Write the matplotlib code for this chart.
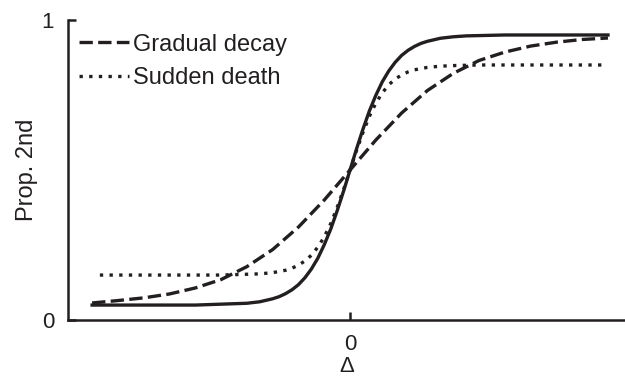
import matplotlib
matplotlib.use('Agg')
import matplotlib.pyplot as plt

plt.rcParams['font.family'] = ['Liberation Sans', 'DejaVu Sans']

INK = '#231f20'

# values (delta, proportion 2nd)
solid_x = [-1.0, -0.6, -0.4, -0.35, -0.3, -0.275, -0.25, -0.225, -0.2, -0.175, -0.15,
           -0.125, -0.1, -0.075, -0.05, -0.025, 0.0, 0.025, 0.05, 0.075, 0.1, 0.125,
           0.15, 0.175, 0.2, 0.225, 0.25, 0.275, 0.3, 0.35, 0.4, 0.45, 0.5, 0.6, 1.0]
solid_y = [0.05, 0.05, 0.056, 0.061, 0.071, 0.078, 0.088, 0.101, 0.118, 0.141, 0.170,
           0.206, 0.251, 0.303, 0.364, 0.430, 0.5, 0.570, 0.636, 0.697, 0.749, 0.794,
           0.830, 0.859, 0.882, 0.899, 0.912, 0.922, 0.929, 0.939, 0.944, 0.947, 0.948, 0.95, 0.95]

gradual_x = [-1.0, -0.9, -0.8, -0.7, -0.6, -0.5, -0.4, -0.3, -0.2, -0.1, 0.0,
             0.1, 0.2, 0.3, 0.4, 0.5, 0.6, 0.7, 0.8, 0.9, 1.0]
gradual_y = [0.057, 0.065, 0.074, 0.087, 0.107, 0.135, 0.178, 0.235, 0.310, 0.400, 0.5,
             0.600, 0.690, 0.765, 0.822, 0.865, 0.893, 0.913, 0.926, 0.935, 0.940]

sudden_x = [-0.97, -0.5, -0.35, -0.3, -0.25, -0.225, -0.2, -0.175, -0.15, -0.125, -0.1,
            -0.075, -0.05, -0.025, 0.0, 0.025, 0.05, 0.075, 0.1, 0.125, 0.15, 0.175,
            0.2, 0.225, 0.25, 0.3, 0.35, 0.4, 0.5, 0.99]
sudden_y = [0.15, 0.15, 0.154, 0.158, 0.166, 0.173, 0.183, 0.197, 0.216, 0.243, 0.277,
            0.321, 0.375, 0.435, 0.5, 0.565, 0.625, 0.679, 0.723, 0.757, 0.784, 0.803,
            0.817, 0.827, 0.834, 0.842, 0.846, 0.848, 0.85, 0.85]

fig = plt.figure(figsize=(6.25, 3.77), dpi=100)
ax = fig.add_axes([0.109, 0.151, 0.891, 0.796])

ax.plot(solid_x, solid_y, color=INK, lw=2.4, solid_joinstyle='round')
ax.plot(gradual_x, gradual_y, color=INK, lw=2.4, linestyle=(0, (4, 1.6)),
        dash_capstyle='butt', label='Gradual decay')
ax.plot(sudden_x, sudden_y, color=INK, lw=2.4, linestyle=(0, (1, 1.9)),
        dash_capstyle='butt', label='Sudden death')

ax.set_xlim(-1.093, 1.066)
ax.set_ylim(0, 1)
ax.set_xticks([0])
ax.set_yticks([0, 1])
ax.set_xticklabels(['0'])
ax.set_yticklabels(['0', '1'])
ax.tick_params(direction='in', length=6, width=1.8, color=INK,
               labelsize=16, labelcolor=INK, pad=10)
ax.tick_params(axis='y', pad=10)

for side in ['top', 'right']:
    ax.spines[side].set_visible(False)
for side in ['left', 'bottom']:
    ax.spines[side].set_linewidth(1.8)
    ax.spines[side].set_color(INK)

ax.set_xlabel('Δ', fontsize=16, color=INK, labelpad=1)
ax.set_ylabel('Prop. 2nd', fontsize=17, color=INK, labelpad=3)

leg = ax.legend(loc='upper left', bbox_to_anchor=(-0.01, 1.01), frameon=False,
                fontsize=17, handlelength=2.1, handletextpad=0.2,
                labelspacing=0.5, borderaxespad=0.3)
for t in leg.get_texts():
    t.set_color(INK)

fig.savefig('out.png', dpi=100)
